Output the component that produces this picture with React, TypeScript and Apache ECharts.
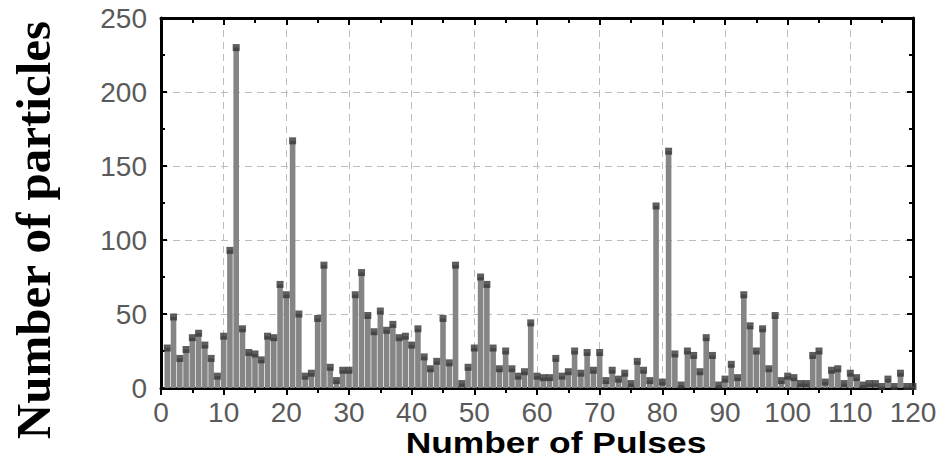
import React, { useEffect, useRef } from "react";
import * as echarts from "echarts";

// Number of particles counted for each pulse number (1..120)
const particleCounts: number[] = [
  27, 48, 20, 26, 34, 37, 29, 20, 8, 35,
  93, 230, 40, 24, 23, 19, 35, 34, 70, 63,
  167, 50, 8, 10, 47, 83, 14, 5, 12, 12,
  63, 78, 49, 38, 52, 39, 43, 34, 35, 29,
  40, 21, 13, 18, 47, 17, 83, 3, 14, 27,
  75, 70, 27, 13, 25, 13, 8, 11, 44, 8,
  7, 7, 20, 8, 11, 25, 10, 24, 12, 24,
  5, 12, 6, 10, 3, 18, 12, 5, 123, 4,
  160, 23, 2, 25, 22, 11, 34, 22, 2, 6,
  16, 7, 63, 42, 25, 40, 13, 49, 5, 8,
  7, 3, 3, 22, 25, 4, 12, 13, 3, 10,
  7, 2, 3, 3, 1, 6, 1, 10, 1, 1,
];
const firstPulse = 1;
const xTicks = { min: 0, max: 120, interval: 10 };
const yTicks = { min: 0, max: 250, interval: 50 };
const xTitle = "Number of Pulses";
const yTitle = "Number of particles";

export default function App() {
  const ref = useRef<HTMLDivElement>(null);
  useEffect(() => {
    if (!ref.current) return;
    const chart = echarts.init(ref.current, null, { renderer: "svg" });
    const data = particleCounts.map((v, i) => [firstPulse + i, v]);
    const labelFont = {
      fontFamily: "'Liberation Sans', Arial, sans-serif",
      fontSize: 28,
      color: "#5a5a5a",
    };
    const frameLine = { show: true, onZero: false, lineStyle: { color: "#000", width: 3 } };
    const grid = { left: 161, top: 18, width: 752, height: 370 };
    chart.setOption({
      animation: false,
      backgroundColor: "#fff",
      grid,
      xAxis: [
        {
          type: "value",
          position: "bottom",
          min: xTicks.min,
          max: xTicks.max,
          interval: xTicks.interval,
          axisLine: frameLine,
          axisTick: { show: true, inside: false, length: 7, lineStyle: { color: "#000", width: 2 } },
          minorTick: { show: true, splitNumber: 2, length: 5, lineStyle: { color: "#000", width: 2 } },
          axisLabel: { ...labelFont, margin: 10 },
          splitLine: { show: true, lineStyle: { color: "#bdbdbd", type: [7, 5], width: 1 } },
        },
        {
          type: "value",
          position: "top",
          min: xTicks.min,
          max: xTicks.max,
          interval: xTicks.interval,
          axisLine: frameLine,
          axisTick: { show: true, inside: true, length: 7, lineStyle: { color: "#000", width: 2 } },
          minorTick: { show: true, splitNumber: 2, length: 5, lineStyle: { color: "#000", width: 2 } },
          axisLabel: { show: false },
          splitLine: { show: false },
        },
      ],
      yAxis: [
        {
          type: "value",
          position: "left",
          min: yTicks.min,
          max: yTicks.max,
          interval: yTicks.interval,
          axisLine: frameLine,
          axisTick: { show: true, inside: true, length: 6, lineStyle: { color: "#000", width: 2 } },
          minorTick: { show: true, splitNumber: 2, length: 4, lineStyle: { color: "#000", width: 2 } },
          axisLabel: { ...labelFont, margin: 14 },
          splitLine: { show: true, lineStyle: { color: "#bdbdbd", type: [7, 5], width: 1 } },
        },
        {
          type: "value",
          position: "right",
          min: yTicks.min,
          max: yTicks.max,
          interval: yTicks.interval,
          axisLine: frameLine,
          axisTick: { show: true, inside: true, length: 6, lineStyle: { color: "#000", width: 2 } },
          minorTick: { show: true, splitNumber: 2, length: 4, lineStyle: { color: "#000", width: 2 } },
          axisLabel: { show: false },
          splitLine: { show: false },
        },
      ],
      series: [
        {
          type: "bar",
          xAxisIndex: 0,
          yAxisIndex: 0,
          data,
          barWidth: 5.6,
          itemStyle: { color: "#858585" },
          z: 2,
        },
        {
          type: "scatter",
          xAxisIndex: 0,
          yAxisIndex: 0,
          data,
          symbol: "rect",
          symbolSize: [7, 7],
          itemStyle: { color: "#363636" },
          z: 3,
        },
      ],
      graphic: [
        {
          type: "text",
          x: 556,
          y: 443,
          scaleX: 1.22,
          style: {
            text: xTitle,
            fontFamily: "'Liberation Sans', Arial, sans-serif",
            fontWeight: "bold",
            fontSize: 29,
            fill: "#000",
            align: "center",
            verticalAlign: "middle",
          },
        },
        {
          type: "text",
          x: 33,
          y: 230,
          rotation: Math.PI / 2,
          style: {
            text: yTitle,
            fontFamily: "'Liberation Serif', 'Times New Roman', serif",
            fontWeight: "bold",
            fontSize: 49,
            fill: "#000",
            align: "center",
            verticalAlign: "middle",
          },
        },
      ],
    });
    return () => chart.dispose();
  }, []);
  return (
    <div
      ref={ref}
      style={{ position: "fixed", left: 0, top: 0, width: 950, height: 461, background: "#fff" }}
    />
  );
}
